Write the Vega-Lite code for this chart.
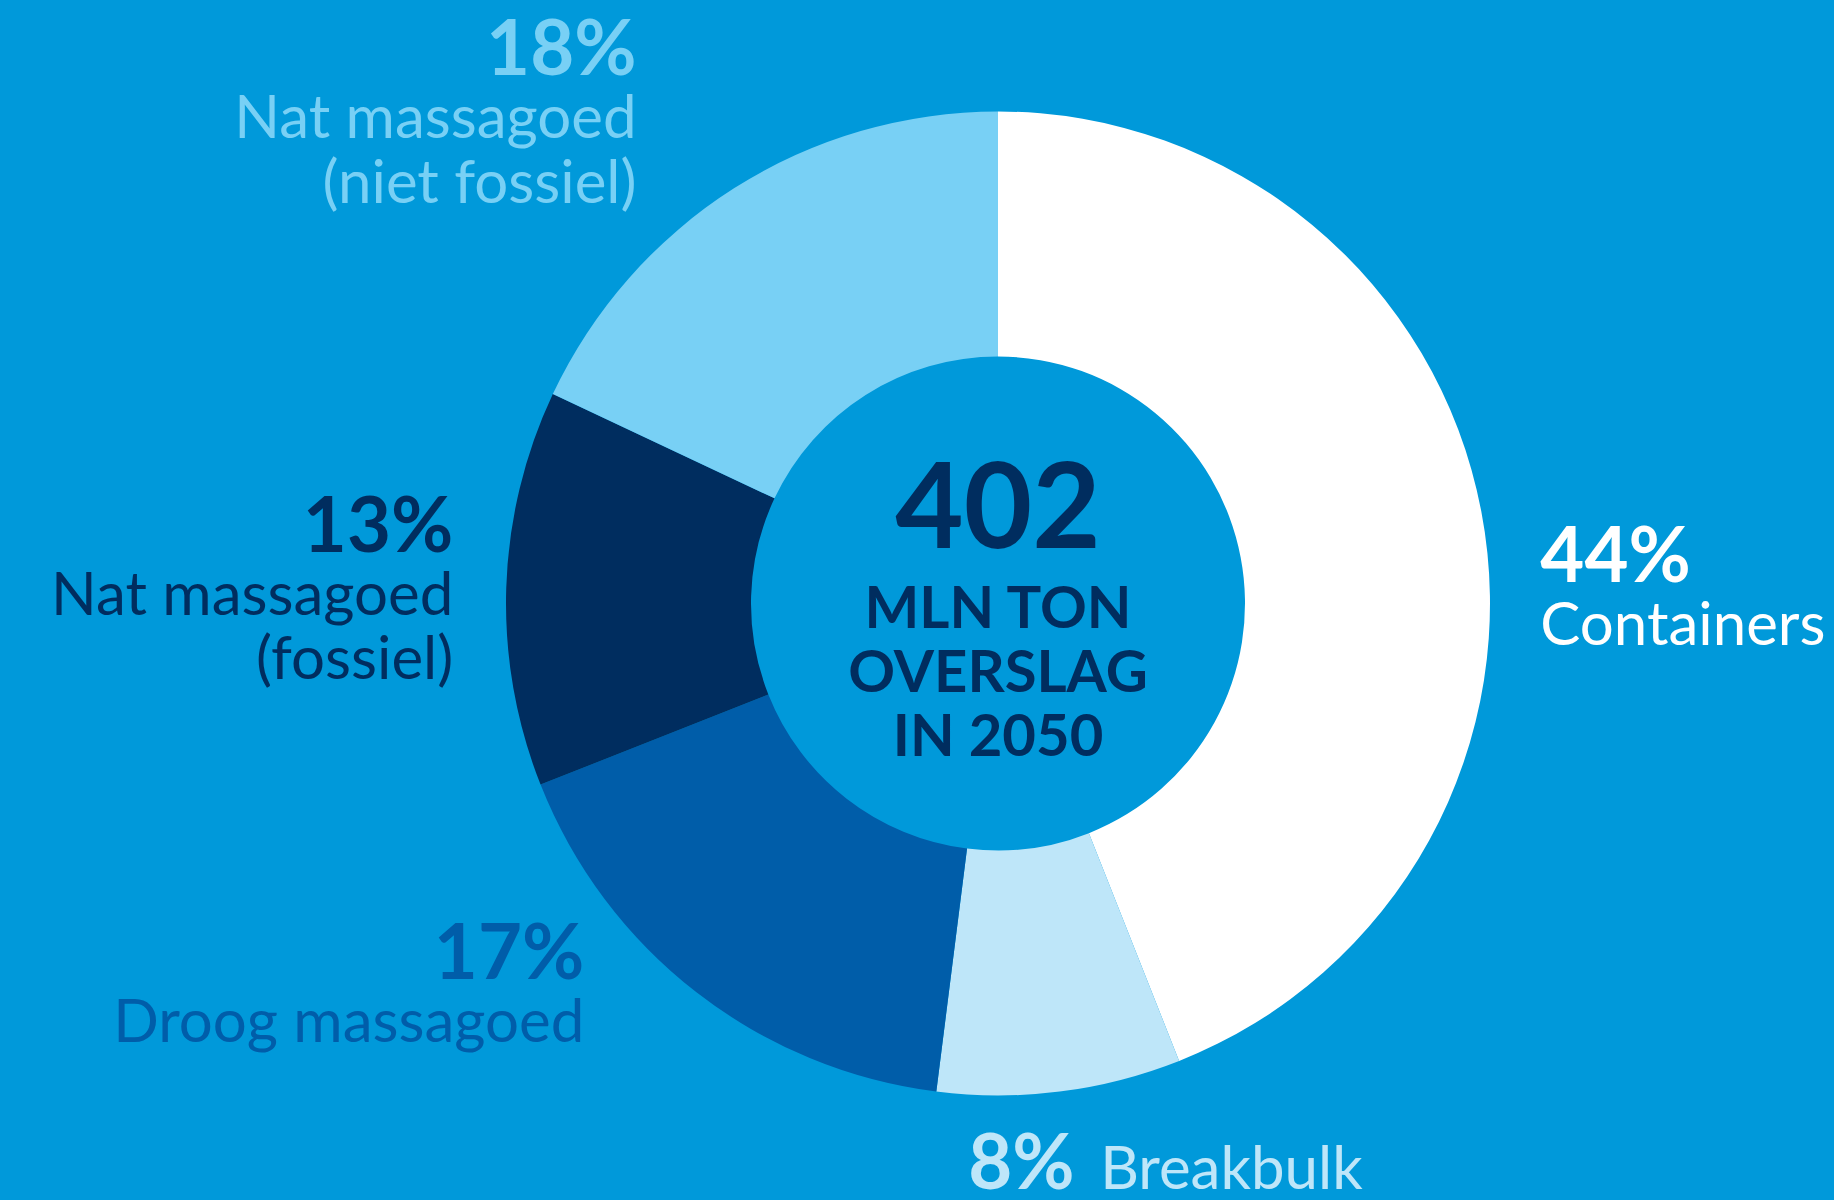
{
  "$schema": "https://vega.github.io/schema/vega-lite/v6.json",
  "width": 1670,
  "height": 1193,
  "autosize": "none",
  "padding": {"left": 163, "top": 7, "right": 1, "bottom": 0},
  "background": "#0099DA",
  "config": {"view": {"stroke": null}, "font": "Lato"},
  "layer": [
    {
      "data": {
        "values": [
          {"rank": 1, "category": "Containers", "pct": 44, "pctLabel": "44%", "name": ["Containers"]},
          {"rank": 2, "category": "Breakbulk", "pct": 8, "pctLabel": "8%", "name": ["Breakbulk"]},
          {"rank": 3, "category": "Droog massagoed", "pct": 17, "pctLabel": "17%", "name": ["Droog massagoed"]},
          {"rank": 4, "category": "Nat massagoed (fossiel)", "pct": 13, "pctLabel": "13%", "name": ["Nat massagoed", "(fossiel)"]},
          {"rank": 5, "category": "Nat massagoed (niet fossiel)", "pct": 18, "pctLabel": "18%", "name": ["Nat massagoed", "(niet fossiel)"]}
        ]
      },
      "encoding": {
        "theta": {"field": "pct", "type": "quantitative", "stack": true},
        "order": {"field": "rank", "type": "quantitative"},
        "color": {
          "field": "category",
          "type": "nominal",
          "legend": null,
          "scale": {
            "domain": ["Containers", "Breakbulk", "Droog massagoed", "Nat massagoed (fossiel)", "Nat massagoed (niet fossiel)"],
            "range": ["#FFFFFF", "#BEE6F9", "#005DA9", "#002D5F", "#78D0F5"]
          }
        }
      },
      "layer": [
        {"mark": {"type": "arc", "outerRadius": 492, "innerRadius": 247}},
        {
          "mark": {"type": "text", "radius": 600, "align": "left", "baseline": "alphabetic", "dx": -47, "dy": 91, "fontSize": 76, "fontWeight": "bold"},
          "encoding": {"text": {"condition": {"test": "datum.category === 'Containers'", "field": "pctLabel"}, "value": ""}}
        },
        {
          "mark": {"type": "text", "radius": 600, "align": "left", "baseline": "alphabetic", "dx": -47, "dy": 154, "fontSize": 60},
          "encoding": {"text": {"condition": {"test": "datum.category === 'Containers'", "field": "name"}, "value": ""}}
        },
        {
          "mark": {"type": "text", "radius": 600, "align": "left", "baseline": "alphabetic", "dx": -105, "dy": -10, "fontSize": 76, "fontWeight": "bold"},
          "encoding": {"text": {"condition": {"test": "datum.category === 'Breakbulk'", "field": "pctLabel"}, "value": ""}}
        },
        {
          "mark": {"type": "text", "radius": 600, "align": "left", "baseline": "alphabetic", "dx": 27, "dy": -10, "fontSize": 60},
          "encoding": {"text": {"condition": {"test": "datum.category === 'Breakbulk'", "field": "name"}, "value": ""}}
        },
        {
          "mark": {"type": "text", "radius": 600, "align": "right", "baseline": "alphabetic", "dx": -46, "dy": -99, "fontSize": 76, "fontWeight": "bold"},
          "encoding": {"text": {"condition": {"test": "datum.category === 'Droog massagoed'", "field": "pctLabel"}, "value": ""}}
        },
        {
          "mark": {"type": "text", "radius": 600, "align": "right", "baseline": "alphabetic", "dx": -46, "dy": -36, "fontSize": 60},
          "encoding": {"text": {"condition": {"test": "datum.category === 'Droog massagoed'", "field": "name"}, "value": ""}}
        },
        {
          "mark": {"type": "text", "radius": 600, "align": "right", "baseline": "alphabetic", "dx": 55, "dy": -33, "fontSize": 76, "fontWeight": "bold"},
          "encoding": {"text": {"condition": {"test": "datum.category === 'Nat massagoed (fossiel)'", "field": "pctLabel"}, "value": ""}}
        },
        {
          "mark": {"type": "text", "radius": 600, "align": "right", "baseline": "alphabetic", "dx": 55, "dy": 30, "fontSize": 60, "lineHeight": 64},
          "encoding": {"text": {"condition": {"test": "datum.category === 'Nat massagoed (fossiel)'", "field": "name"}, "value": ""}}
        },
        {
          "mark": {"type": "text", "radius": 600, "align": "right", "baseline": "alphabetic", "dx": -40, "dy": -22, "fontSize": 76, "fontWeight": "bold"},
          "encoding": {"text": {"condition": {"test": "datum.category === 'Nat massagoed (niet fossiel)'", "field": "pctLabel"}, "value": ""}}
        },
        {
          "mark": {"type": "text", "radius": 600, "align": "right", "baseline": "alphabetic", "dx": -40, "dy": 41, "fontSize": 60, "lineHeight": 65},
          "encoding": {"text": {"condition": {"test": "datum.category === 'Nat massagoed (niet fossiel)'", "field": "name"}, "value": ""}}
        }
      ]
    },
    {
      "data": {"values": [{"total": "402", "sub": ["MLN TON", "OVERSLAG", "IN 2050"]}]},
      "layer": [
        {
          "mark": {"type": "text", "align": "center", "baseline": "alphabetic", "dy": -56, "fontSize": 118, "fontWeight": "bold", "color": "#002D5F"},
          "encoding": {"text": {"field": "total"}}
        },
        {
          "mark": {"type": "text", "align": "center", "baseline": "alphabetic", "dy": 24, "fontSize": 58, "fontWeight": "bold", "lineHeight": 64, "color": "#002D5F"},
          "encoding": {"text": {"field": "sub"}}
        }
      ]
    }
  ]
}
